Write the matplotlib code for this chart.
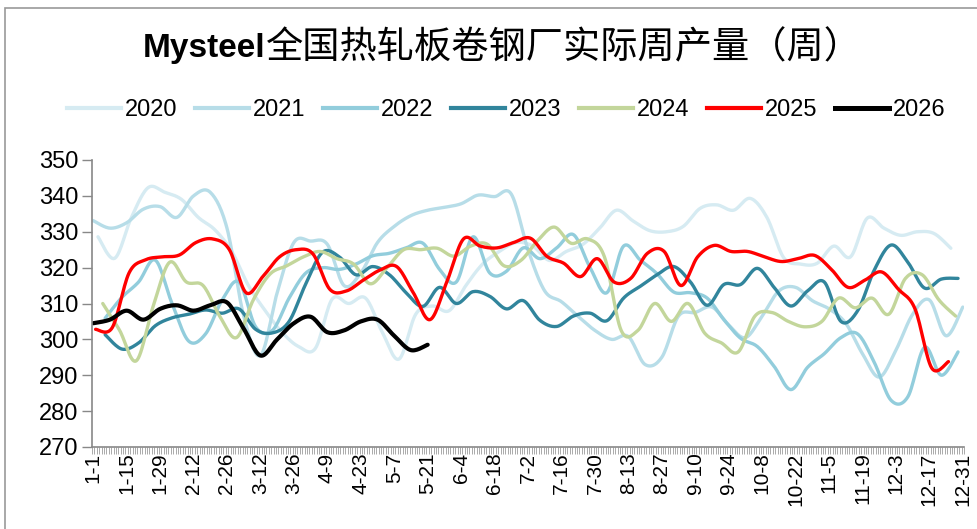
import numpy as np
import matplotlib
matplotlib.use('Agg')
import matplotlib.pyplot as plt
from matplotlib.lines import Line2D

plt.rcParams['font.family'] = ['Liberation Sans', 'Noto Sans CJK SC', 'DejaVu Sans']

# weekly output (10k t), first reading day-of-year for each year
years = ['2020', '2021', '2022', '2023', '2024', '2025', '2026']
first_day = [2, 0, 5, 5, 4, 1, 0]

v2020 = [328.6, 322.6, 334, 342.3, 341, 339, 334, 330.5, 324.5, 315, 308, 302, 298, 297.5,
         311.2, 310, 311.5, 302, 294.5, 307, 309.3, 308, 315, 321, 324.5, 327, 326, 322,
         324.5, 326.5, 331, 336, 333, 330.3, 330, 331.5, 336.5, 337.5, 336, 339.3, 334,
         322.8, 321, 321.2, 326, 323, 333.8, 331, 329, 330, 329.5, 325.4]
v2021 = [333.1, 331, 332.5, 336.3, 337, 334, 340, 341, 331, 306.5, 295.5, 313, 327, 327.4,
         326.5, 315, 318.5, 327, 331.5, 334.5, 336, 336.8, 337.8, 340.2, 339.8, 340.5, 325,
         313.5, 310.5, 306.4, 302.5, 300, 300.8, 293, 295, 306.5, 307.5, 309, 304, 300.5,
         306.5, 313.5, 314.5, 310.8, 308.5, 304.5, 296, 289.5, 297, 307, 311, 301, 309]
v2022 = [305.9, 311.7, 316, 322.1, 310, 299.5, 301.5, 311, 316, 303.5, 302.5, 311.5, 318.5,
         320, 319.5, 321, 323.3, 324, 325.5, 326.8, 319.5, 316, 328.6, 318.5, 319, 325.5,
         322.5, 325.5, 329.2, 320, 313, 326, 322.1, 318.3, 313.2, 313, 311.5, 305.5, 300.3,
         298, 292.5, 286, 292.2, 296, 300.5, 301.5, 293.5, 283, 284, 297.8, 290, 296.5]
v2023 = [301.3, 297.3, 299, 303.8, 306, 307, 308.2, 307.3, 308.5, 302.8, 301.8, 305, 315.5,
         324.3, 323, 318, 320.3, 318, 313, 309.2, 314.5, 310, 313.3, 312, 308.5, 310.8,
         305.3, 303.6, 306.5, 307.3, 305.2, 311.5, 314.8, 318, 320.3, 316, 309.5, 315.3,
         315.3, 319.8, 314.5, 309.3, 313.5, 316, 305, 308, 319.4, 326.3, 321.5, 314.3,
         316.8, 317]
v2024 = [310, 302.6, 294, 309, 321.5, 316, 315, 306.4, 300.5, 311, 318.2, 320.5, 323, 324.5,
         322.5, 321, 315.5, 320, 325, 325, 325.4, 323.2, 326, 326.5, 320.5, 322, 327.5,
         331.3, 326.8, 328, 323, 302.5, 302.5, 310, 305, 310, 301.7, 299, 296.5, 306.5,
         307.5, 305, 303.5, 305, 311.5, 308.8, 311.5, 307, 317, 318, 311, 306.5]
v2025 = [302.8, 303.3, 318.5, 322.2, 323, 323.5, 327, 328, 325, 313, 317.5, 323, 325, 323.8,
         314, 313.5, 316.5, 319.3, 320.3, 313, 305.5, 316, 328, 326, 325.5, 327, 328.2,
         323.1, 321.2, 317.5, 322.5, 316, 317, 324, 324.5, 315, 323, 326.2, 324.5, 324.5,
         323, 321.7, 322.5, 323.4, 319.5, 314.5, 316.5, 318.8, 314, 308.5, 292, 293.8]
v2026 = [304.5, 305.5, 308, 305.5, 308.5, 309.5, 308, 309.5, 310.3, 303, 295.5, 300, 304.5,
         306.3, 302, 302.5, 305, 305.5, 301, 297, 298.5]

series = [v2020, v2021, v2022, v2023, v2024, v2025, v2026]
colors = ['#d6ebf2', '#b7dde8', '#92cddc', '#31859c', '#c3d69b', '#ff0000', '#000000']
widths = [2.4, 2.4, 2.4, 2.4, 2.4, 2.4, 3.0]

# x axis: every day of the year, label every 14 days
month_len = [31, 28, 31, 30, 31, 30, 31, 31, 30, 31, 30, 31]
day_labels = [f'{m + 1}-{d + 1}' for m in range(12) for d in range(month_len[m])]


def smooth(x, y, n=16):
    # Excel-style smoothed line (cubic Bezier through the points)
    p = np.column_stack([x, y])
    q = np.vstack([p[0], p, p[-1]])
    t = np.linspace(0, 1, n)[:, None]
    out = []
    for i in range(len(p) - 1):
        p0, p1, p2, p3 = q[i], q[i + 1], q[i + 2], q[i + 3]
        c1 = p1 + (p2 - p0) / 6
        c2 = p2 - (p3 - p1) / 6
        seg = (1 - t) ** 3 * p1 + 3 * (1 - t) ** 2 * t * c1 + 3 * (1 - t) * t ** 2 * c2 + t ** 3 * p2
        out.append(seg if i == 0 else seg[1:])
    out = np.vstack(out)
    return out[:, 0], out[:, 1]


fig = plt.figure(figsize=(9.77, 5.29), dpi=100)
ax = fig.add_axes([92 / 977, 1 - 447 / 529, 872 / 977, (447 - 160) / 529])

for vals, f0, c, lw in zip(series, first_day, colors, widths):
    days = f0 + 7 * np.arange(len(vals)) + 0.5
    sx, sy = smooth(days, np.array(vals))
    ax.plot(sx, sy, color=c, lw=lw, solid_capstyle='round')

ax.set_xlim(0, 365)
ax.set_ylim(270, 350)
ax.set_yticks(np.arange(270, 351, 10))
tick_days = np.arange(0, 365, 14)
ax.set_xticks(tick_days + 0.5)
ax.set_xticklabels([day_labels[d] for d in tick_days], rotation=90, fontsize=15)
ax.set_xticks(np.arange(0, 366), minor=True)
ax.tick_params(axis='x', which='major', length=0, pad=4)
ax.tick_params(axis='x', which='minor', length=5, width=0.5, color='#888888')
ax.tick_params(axis='y', length=7, width=1, color='#888888', labelsize=17, pad=3)
for s in ['top', 'right']:
    ax.spines[s].set_visible(False)
for s in ['left', 'bottom']:
    ax.spines[s].set_color('#888888')
    ax.spines[s].set_linewidth(1.2)

# title: bold latin part + CJK part
fig.canvas.draw()
r = fig.canvas.get_renderer()
t1 = fig.text(143 / 977, 1 - 48 / 529, 'Mysteel', fontsize=24, fontweight='bold',
              va='center', ha='left', family=['Liberation Sans'])
bb = t1.get_window_extent(renderer=r)
fig.text(bb.x1 / fig.bbox.width, 1 - 48 / 529, '全国热轧板卷钢厂实际周产量（周）', fontsize=26.8,
         va='center', ha='left', family=['Noto Sans CJK SC', 'DejaVu Sans'])

handles = [Line2D([], [], color=c, lw=lw + 0.6) for c, lw in zip(colors, widths)]
fig.legend(handles, years, loc='center', bbox_to_anchor=(0.518, 1 - 110 / 529), ncol=7,
           frameon=False, fontsize=17, handlelength=2.3, columnspacing=0.75, handletextpad=0.15)

border = plt.Rectangle((5 / 977, -0.01), 1.02, 1 - 8 / 529 + 0.01, transform=fig.transFigure,
                       fill=False, edgecolor='#999999', lw=1.2)
fig.patches.append(border)

fig.savefig('out.png', dpi=100)
